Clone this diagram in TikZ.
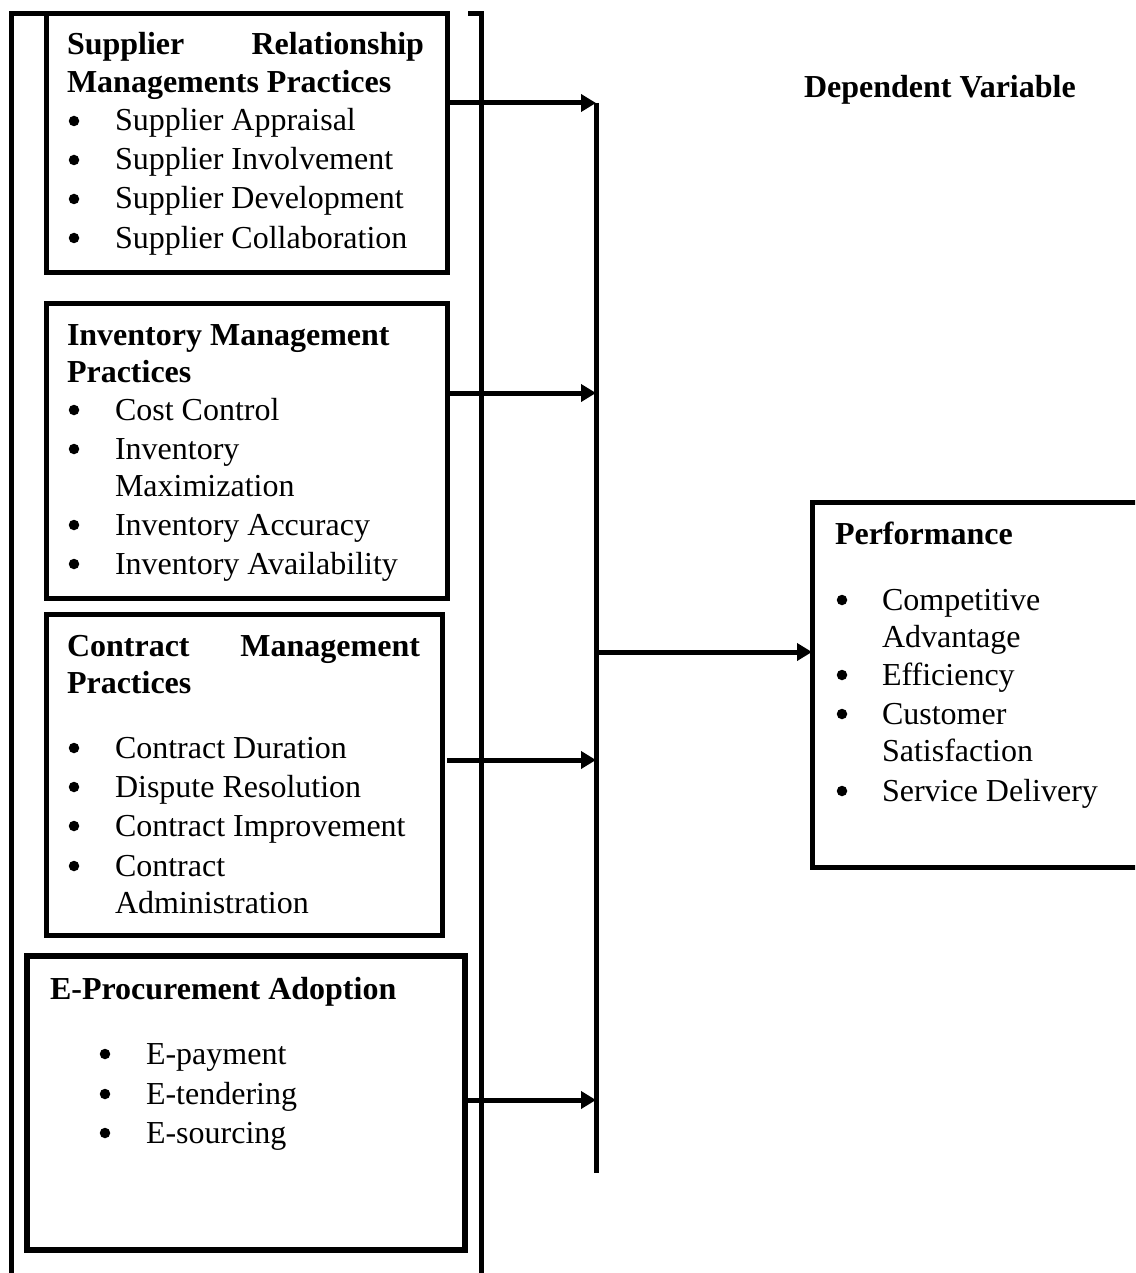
\documentclass[tikz,border=0pt]{standalone}
\usepackage{fontspec}
\setmainfont{Liberation Serif}
\usetikzlibrary{arrows.meta}
\newcommand{\bigtxt}{\fontsize{32}{39}\selectfont}
\tikzset{
  box/.style={draw, line width=5pt, inner sep=0pt, outer sep=0pt, anchor=north west},
  txt/.style={anchor=base west, inner sep=0pt, outer sep=0pt, font=\bigtxt},
  hd/.style={anchor=base west, inner sep=0pt, outer sep=0pt, font=\bigtxt\bfseries},
  hde/.style={anchor=base east, inner sep=0pt, outer sep=0pt, font=\bigtxt\bfseries},
  bul/.style={circle, fill=black, inner sep=0pt, minimum size=10.5pt},
  ln/.style={line width=5pt},
  arr/.style={line width=5pt, -{Triangle[length=15pt,width=17pt]}},
}
\begin{document}
\begin{tikzpicture}[x=1pt, y=-1pt]
\path[use as bounding box, clip] (0,0) rectangle (1135,1273);
\fill[white] (0,0) rectangle (1135,1273);

% boxes
\node[box, minimum width=401pt, minimum height=258pt] (srm) at (46,14) {};
\node[box, minimum width=401pt, minimum height=295pt] (inv) at (46,303) {};
\node[box, minimum width=396pt, minimum height=321pt] (con) at (46,614) {};
\node[box, line width=6pt, minimum width=438pt, minimum height=294pt] (ep) at (27,956) {};
\node[box, minimum width=360pt, minimum height=365pt] (perf) at (812,502) {};

% outer frame and bracket
\coordinate (fl) at (11,1290);
\coordinate (ft) at (11,14);
\coordinate (gt) at (468,14);
\coordinate (gc) at (481,14);
\coordinate (gb) at (481,1290);
\draw[ln] (fl) -- (ft) -- (srm.north west);
\draw[ln] (gt) -- (gc) -- (gb);

% bus line
\coordinate (bt) at (596,103);
\coordinate (bb) at (596,1173);
\draw[ln] (bt) -- (bb);
\coordinate (b2) at (596,393);
\coordinate (b3) at (596,760);
\coordinate (b4) at (596,1100);
\coordinate (b5) at (596,652);
\draw[arr] (srm.east |- bt) -- (bt);
\draw[arr] (inv.east |- b2) -- (b2);
\draw[arr] ([xshift=5pt]con.east |- b3) -- (b3);
\draw[arr] (ep.east |- b4) -- (b4);
\draw[arr] (b5) -- (perf.west |- b5);

% SRM text
\node[hd] (s1a) at (67,55) {Supplier};
\node[hde] (s1b) at (424,55) {Relationship};
\node[hd] (s2) at (67,93) {Managements Practices};
\node[bul] (sb1) at (74,121) {};
\node[txt] (st1) at (115,131) {Supplier Appraisal};
\node[bul] (sb2) at (74,160) {};
\node[txt] (st2) at (115,170) {Supplier Involvement};
\node[bul] (sb3) at (74,199) {};
\node[txt] (st3) at (115,209) {Supplier Development};
\node[bul] (sb4) at (74,238) {};
\node[txt] (st4) at (115,248) {Supplier Collaboration};

% Inventory text
\node[hd] (i1) at (67,345) {Inventory Management};
\node[hd] (i2) at (67,382) {Practices};
\node[bul] (ib1) at (74,410) {};
\node[txt] (it1) at (115,420) {Cost Control};
\node[bul] (ib2) at (74,449) {};
\node[txt] (it2) at (115,459) {Inventory};
\node[txt] (it2b) at (115,496) {Maximization};
\node[bul] (ib3) at (74,525) {};
\node[txt] (it3) at (115,535) {Inventory Accuracy};
\node[bul] (ib4) at (74,564) {};
\node[txt] (it4) at (115,574) {Inventory Availability};

% Contract text
\node[hd] (c1a) at (67,656) {Contract};
\node[hde] (c1b) at (420,656) {Management};
\node[hd] (c2) at (67,693) {Practices};
\node[bul] (cb1) at (74,748) {};
\node[txt] (ct1) at (115,758) {Contract Duration};
\node[bul] (cb2) at (74,787) {};
\node[txt] (ct2) at (115,797) {Dispute Resolution};
\node[bul] (cb3) at (74,826) {};
\node[txt] (ct3) at (115,836) {Contract Improvement};
\node[bul] (cb4) at (74,866) {};
\node[txt] (ct4) at (115,876) {Contract};
\node[txt] (ct4b) at (115,913) {Administration};

% E-procurement text
\node[hd] (e1) at (50,999) {E-Procurement Adoption};
\node[bul] (eb1) at (105,1054) {};
\node[txt] (et1) at (146,1064) {E-payment};
\node[bul] (eb2) at (105,1094) {};
\node[txt] (et2) at (146,1104) {E-tendering};
\node[bul] (eb3) at (105,1133) {};
\node[txt] (et3) at (146,1143) {E-sourcing};

% Performance text
\node[hd] (p1) at (835,544) {Performance};
\node[bul] (pb1) at (842,600) {};
\node[txt] (pt1) at (882,610) {Competitive};
\node[txt] (pt1b) at (882,647) {Advantage};
\node[bul] (pb2) at (842,675) {};
\node[txt] (pt2) at (882,685) {Efficiency};
\node[bul] (pb3) at (842,714) {};
\node[txt] (pt3) at (882,724) {Customer};
\node[txt] (pt3b) at (882,761) {Satisfaction};
\node[bul] (pb4) at (842,791) {};
\node[txt] (pt4) at (882,801) {Service Delivery};

% Dependent variable label
\node[hd] (dv) at (804,98) {Dependent Variable};
\end{tikzpicture}
\end{document}
